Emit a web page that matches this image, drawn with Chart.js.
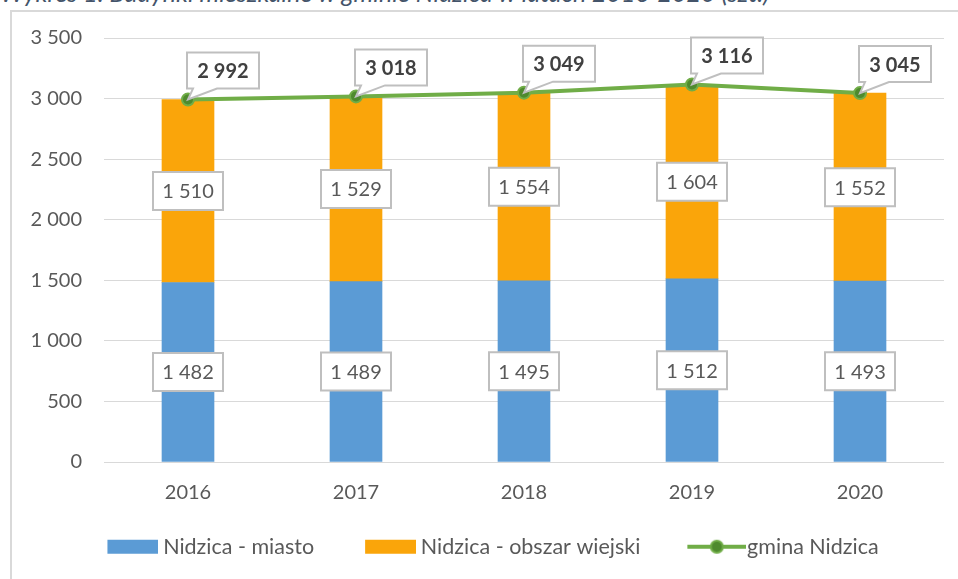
<!DOCTYPE html>
<html>
<head>
<meta charset="utf-8">
<script src="https://cdn.jsdelivr.net/npm/chart.js@4"></script>
<style>
  body { margin: 0; background: #fff; width: 958px; height: 579px; overflow: hidden; position: relative; font-family: Lato, sans-serif; }
  #title { position: absolute; left: 0; top: -20px; font: italic 25px/25px Lato, sans-serif; color: #44546A; white-space: nowrap; }
  #frame { position: absolute; left: 10px; top: 10px; width: 1000px; height: 1000px; border: 2px solid #d9d9d9; box-sizing: border-box; }
  #c { position: absolute; left: 0; top: 0; }
</style>
</head>
<body>
<div id="title">Wykres 1. Budynki mieszkalne w gminie Nidzica w latach 2016-2020 (szt.)</div>
<div id="frame"></div>
<canvas id="c" width="958" height="579"></canvas>
<script>
const years = ["2016", "2017", "2018", "2019", "2020"];
const miasto = [1482, 1489, 1495, 1512, 1493];
const wiejski = [1510, 1529, 1554, 1604, 1552];
const gmina = [2992, 3018, 3049, 3116, 3045];

const blue = '#5B9BD5';
const orange = '#FAA50A';
const green = '#70AD47';
const textGrey = '#595959';

const fmt = v => String(v).replace(/\B(?=(\d{3})+(?!\d))/g, ' ');

// legend icons: drawn off-centre so the text sits close to the marker
function icon(kind, color) {
  const c = document.createElement('canvas');
  c.width = kind === 'rect' ? 71 : 79;
  c.height = 16;
  const g = c.getContext('2d');
  if (kind === 'rect') {
    g.fillStyle = color;
    g.fillRect(20, 1, 51, 14);
  } else {
    g.strokeStyle = color; g.lineWidth = 4;
    g.beginPath(); g.moveTo(20, 8); g.lineTo(79, 8); g.stroke();
    g.fillStyle = '#4E8A2E';
    g.beginPath(); g.arc(49.5, 8, 6, 0, Math.PI * 2); g.fill();
    g.strokeStyle = color; g.lineWidth = 2; g.stroke();
  }
  return c;
}
const icons = [icon('rect', blue), icon('rect', orange), icon('line', green)];

function box(ctx, x, y, w, h, text, bold, tip) {
  ctx.save();
  const l = x - w / 2, t = y - h / 2;
  ctx.beginPath();
  ctx.moveTo(l, t);
  ctx.lineTo(l + w, t);
  ctx.lineTo(l + w, t + h);
  if (tip) {
    ctx.lineTo(l + 30, t + h);
    ctx.lineTo(tip.x, tip.y);
    ctx.lineTo(l + 6, t + h);
  }
  ctx.lineTo(l, t + h);
  ctx.closePath();
  ctx.fillStyle = '#fff';
  ctx.fill();
  ctx.strokeStyle = '#BFBFBF';
  ctx.lineWidth = 2;
  ctx.stroke();
  ctx.fillStyle = bold ? '#404040' : textGrey;
  ctx.font = (bold ? 'bold ' : '') + '20px Lato, sans-serif';
  ctx.textAlign = 'center';
  ctx.textBaseline = 'middle';
  ctx.fillText(text, x, y + 1);
  ctx.restore();
}

const labelsPlugin = {
  id: 'labels',
  afterLayout(chart) {
    // legend in the original sits a little right of the canvas centre
    chart.legend.left = 28;
  },
  afterDatasetsDraw(chart) {
    const ctx = chart.ctx;
    [0, 1].forEach(di => {
      chart.getDatasetMeta(di).data.forEach((el, i) => {
        const v = chart.data.datasets[di].data[i];
        box(ctx, el.x, (el.y + el.base) / 2, 70, 38, fmt(v), false);
      });
    });
    chart.getDatasetMeta(2).data.forEach((el, i) => {
      const v = chart.data.datasets[2].data[i];
      box(ctx, el.x + 35, el.y - 29, 72, 36, fmt(v), true, { x: el.x, y: el.y });
    });
  }
};

new Chart(document.getElementById('c'), {
  data: {
    labels: years,
    datasets: [
      { type: 'bar', label: 'Nidzica - miasto', data: miasto, backgroundColor: blue, stack: 's', order: 1, barThickness: 52 },
      { type: 'bar', label: 'Nidzica - obszar wiejski', data: wiejski, backgroundColor: orange, stack: 's', order: 1, barThickness: 52 },
      { type: 'line', label: 'gmina Nidzica', data: gmina, borderColor: green, borderWidth: 4,
        pointRadius: 6, pointBackgroundColor: '#4E8A2E', pointBorderColor: green, pointBorderWidth: 2, order: 0 }
    ]
  },
  options: {
    responsive: false,
    animation: false,
    layout: { padding: { top: 38, right: 14, bottom: 11.5, left: 0 } },
    scales: {
      x: {
        stacked: true,
        grid: { display: false },
        border: { display: false },
        ticks: { color: textGrey, font: { family: 'Lato', size: 20 }, padding: 11 },
        afterFit: s => { s.height = 37; }
      },
      y: {
        stacked: true,
        min: 0, max: 3500,
        grid: { color: '#D9D9D9', drawTicks: false },
        border: { display: false },
        ticks: { stepSize: 500, color: textGrey, font: { family: 'Lato', size: 20 }, padding: 22, callback: v => fmt(v) },
        afterFit: s => { s.width = 104; }
      }
    },
    plugins: {
      tooltip: { enabled: false },
      legend: {
        position: 'bottom',
        labels: {
          color: textGrey,
          font: { family: 'Lato', size: 21.5 },
          usePointStyle: true,
          pointStyleWidth: 59,
          boxHeight: 14,
          padding: 37,
          generateLabels: chart => chart.data.datasets.map((d, i) => ({
            text: d.label, pointStyle: icons[i], datasetIndex: i, fontColor: textGrey,
            lineWidth: 0, strokeStyle: 'transparent', fillStyle: 'transparent'
          }))
        }
      }
    }
  },
  plugins: [labelsPlugin]
});
</script>
</body>
</html>
